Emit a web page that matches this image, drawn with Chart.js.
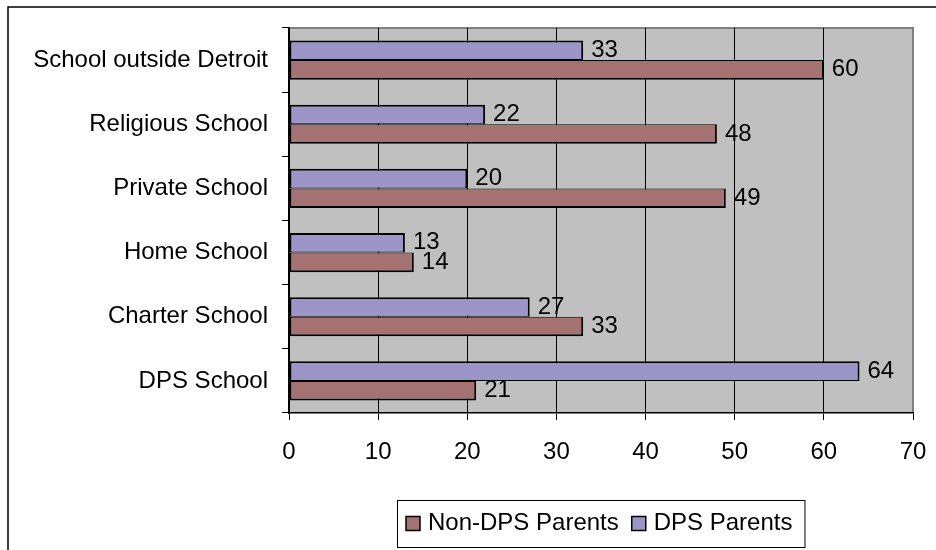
<!DOCTYPE html>
<html>
<head>
<meta charset="utf-8">
<script src="https://cdn.jsdelivr.net/npm/chart.js@4/dist/chart.umd.min.js"></script>
<style>
html,body{margin:0;padding:0;background:#fff;}
#wrap{position:relative;width:936px;height:550px;}
</style>
</head>
<body>
<div id="wrap"><canvas id="c" width="936" height="550"></canvas></div>
<script>
const categories = ["School outside Detroit", "Religious School", "Private School", "Home School", "Charter School", "DPS School"];
const dpsParents = [33, 22, 20, 13, 27, 64];
const nonDpsParents = [60, 48, 49, 14, 33, 21];
const xTicks = [0, 10, 20, 30, 40, 50, 60, 70];
const seriesNames = ["DPS Parents", "Non-DPS Parents"];

const FONT = '"Liberation Sans", Arial, Helvetica, sans-serif';
Chart.defaults.font.family = FONT;
Chart.defaults.font.size = 24;
Chart.defaults.color = '#000';

const frame = {
  id: 'frame',
  beforeDraw(chart) {
    const ctx = chart.ctx, a = chart.chartArea;
    ctx.save();
    ctx.fillStyle = '#fff';
    ctx.fillRect(0, 0, chart.width, chart.height);
    ctx.strokeStyle = '#000';
    ctx.lineWidth = 1.5;
    ctx.beginPath();
    ctx.moveTo(8, chart.height + 2);
    ctx.lineTo(8, 7);
    ctx.lineTo(chart.width + 2, 7);
    ctx.stroke();
    ctx.fillStyle = '#C0C0C0';
    ctx.fillRect(a.left, a.top, a.right - a.left, a.bottom - a.top);
    ctx.strokeStyle = '#808080';
    ctx.lineWidth = 2;
    ctx.beginPath();
    ctx.moveTo(a.left, a.top);
    ctx.lineTo(a.right, a.top);
    ctx.lineTo(a.right, a.bottom);
    ctx.stroke();
    ctx.restore();
  }
};

const valueLabels = {
  id: 'valueLabels',
  afterDatasetsDraw(chart) {
    const ctx = chart.ctx;
    ctx.save();
    ctx.font = '24px ' + FONT;
    ctx.fillStyle = '#000';
    ctx.textAlign = 'left';
    ctx.textBaseline = 'middle';
    chart.data.datasets.forEach((ds, i) => {
      const meta = chart.getDatasetMeta(i);
      meta.data.forEach((el, j) => {
        ctx.fillText(String(ds.data[j]), el.x + 8, el.y);
      });
    });
    ctx.restore();
  }
};

const boxLegend = {
  id: 'boxLegend',
  afterDraw(chart) {
    const ctx = chart.ctx, a = chart.chartArea;
    ctx.save();
    ctx.font = '24px ' + FONT;
    const items = chart.data.datasets.slice().reverse();
    const mk = 14, gap = 8, between = 13, padL = 9, padR = 12;
    let total = padL + padR;
    const widths = items.map(d => ctx.measureText(d.label).width);
    items.forEach((d, i) => { total += mk + gap + widths[i] + (i ? between : 0); });
    const left = Math.round((a.left + a.right) / 2 - total / 2);
    const top = 500, h = 47;
    ctx.strokeStyle = '#000';
    ctx.lineWidth = 1;
    ctx.strokeRect(left + 0.5, top + 0.5, total, h);
    const cy = top + h / 2;
    let x = left + padL;
    items.forEach((d, i) => {
      if (i) x += between;
      ctx.fillStyle = d.backgroundColor;
      ctx.fillRect(x, cy - mk / 2, mk, mk);
      ctx.strokeStyle = '#000';
      ctx.lineWidth = 1.5;
      ctx.strokeRect(x, cy - mk / 2, mk, mk);
      x += mk + gap;
      ctx.fillStyle = '#000';
      ctx.textBaseline = 'middle';
      ctx.textAlign = 'left';
      ctx.fillText(d.label, x, cy);
      x += widths[i];
    });
    ctx.restore();
  }
};

new Chart(document.getElementById('c'), {
  type: 'bar',
  data: {
    labels: categories,
    datasets: [
      { label: seriesNames[0], data: dpsParents, backgroundColor: '#9C96C8', borderColor: '#000',
        borderWidth: { top: 2, bottom: 1, left: 2, right: 2 }, borderSkipped: false },
      { label: seriesNames[1], data: nonDpsParents, backgroundColor: '#A57272', borderColor: '#000',
        borderWidth: { top: 1, bottom: 2, left: 2, right: 2 }, borderSkipped: false }
    ]
  },
  options: {
    indexAxis: 'y',
    responsive: false,
    animation: false,
    events: [],
    layout: { padding: { top: 28, right: 23, left: 0, bottom: 0 } },
    datasets: { bar: { categoryPercentage: 0.61, barPercentage: 1.0 } },
    plugins: { legend: { display: false }, tooltip: { enabled: false } },
    scales: {
      x: {
        type: 'linear',
        min: xTicks[0],
        max: xTicks[xTicks.length - 1],
        afterBuildTicks(scale) { scale.ticks = xTicks.map(v => ({ value: v })); },
        afterFit(scale) {
          scale.height = 137;
          scale.paddingLeft = 0; scale.paddingRight = 0;
        },
        ticks: { padding: 18, color: '#000', font: { size: 24 } },
        grid: {
          color: ctx => (ctx.tick && ctx.tick.value === xTicks[xTicks.length - 1]) ? 'rgba(0,0,0,0)' : '#000',
          lineWidth: 1,
          tickLength: 7,
          tickColor: '#000',
          drawTicks: true
        },
        border: { display: true, color: '#000', width: 1.5 }
      },
      y: {
        type: 'category',
        afterFit(scale) {
          scale.width = 289;
          scale.paddingTop = 0; scale.paddingBottom = 0;
        },
        ticks: { padding: 14, color: '#000', font: { size: 24 } },
        grid: {
          offset: true,
          drawOnChartArea: false,
          tickLength: 7,
          color: '#000',
          tickColor: '#000'
        },
        border: { display: true, color: '#000', width: 1.5 }
      }
    }
  },
  plugins: [frame, valueLabels, boxLegend]
});
</script>
</body>
</html>
